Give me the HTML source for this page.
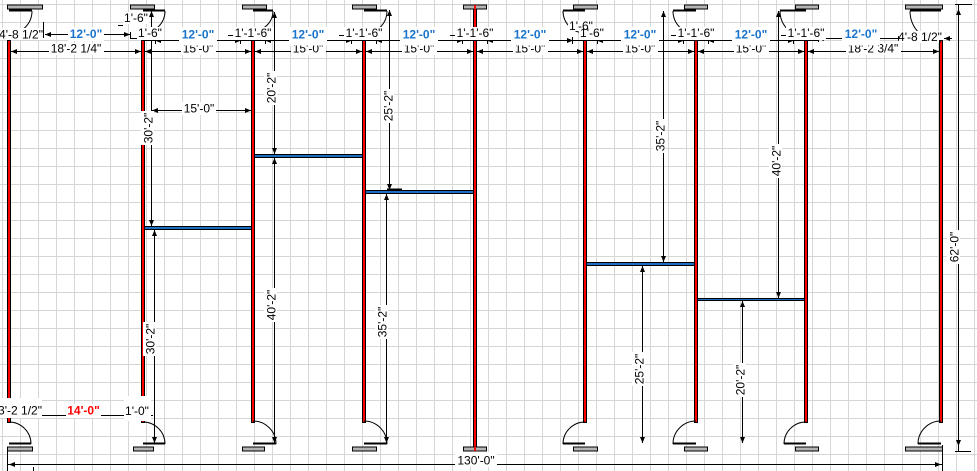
<!DOCTYPE html>
<html><head><meta charset="utf-8"><style>
html,body{margin:0;padding:0;background:#fff;}
svg{display:block;}
text{font-family:"Liberation Sans",Arial,sans-serif;font-size:12px;fill:#000;}
.b{font-weight:bold;fill:#1874cd;}
.r{font-weight:bold;fill:#ff0000;}
</style></head><body>
<svg width="977" height="471" viewBox="0 0 977 471" xmlns="http://www.w3.org/2000/svg">
<rect width="977" height="471" fill="#fff"/>
<!-- grid -->
<path stroke="#d6d6d6" stroke-width="1" fill="none" d="M2.5 0v471M20.5 0v471M38.5 0v471M56.5 0v471M74.5 0v471M92.5 0v471M110.5 0v471M128.5 0v471M146.5 0v471M164.5 0v471M182.5 0v471M200.5 0v471M218.5 0v471M236.5 0v471M254.5 0v471M272.5 0v471M290.5 0v471M308.5 0v471M326.5 0v471M344.5 0v471M362.5 0v471M380.5 0v471M398.5 0v471M416.5 0v471M434.5 0v471M452.5 0v471M470.5 0v471M488.5 0v471M506.5 0v471M524.5 0v471M542.5 0v471M560.5 0v471M578.5 0v471M596.5 0v471M614.5 0v471M632.5 0v471M650.5 0v471M668.5 0v471M686.5 0v471M704.5 0v471M722.5 0v471M740.5 0v471M758.5 0v471M776.5 0v471M794.5 0v471M812.5 0v471M830.5 0v471M848.5 0v471M866.5 0v471M884.5 0v471M902.5 0v471M920.5 0v471M938.5 0v471M956.5 0v471M974.5 0v471
M0 4.5h977M0 22.5h977M0 40.5h977M0 58.5h977M0 76.5h977M0 94.5h977M0 112.5h977M0 130.5h977M0 148.5h977M0 166.5h977M0 184.5h977M0 202.5h977M0 220.5h977M0 238.5h977M0 256.5h977M0 274.5h977M0 292.5h977M0 310.5h977M0 328.5h977M0 346.5h977M0 364.5h977M0 382.5h977M0 400.5h977M0 418.5h977M0 436.5h977M0 454.5h977"/>

<!-- walls -->
<g fill="#000">
<rect x="7" y="40" width="4" height="383"/>
<rect x="141" y="40" width="4" height="383"/>
<rect x="251" y="40" width="4" height="383"/>
<rect x="362" y="40" width="4" height="383"/>
<rect x="473" y="9" width="4" height="438"/>
<rect x="583" y="40" width="4" height="383"/>
<rect x="694" y="40" width="4" height="383"/>
<rect x="804" y="40" width="4" height="383"/>
<rect x="939" y="40" width="4" height="383"/>
</g>
<g fill="#ff0000">
<rect x="8" y="41" width="2" height="381"/>
<rect x="142" y="41" width="2" height="381"/>
<rect x="252" y="41" width="2" height="381"/>
<rect x="363" y="41" width="2" height="381"/>
<rect x="474" y="9" width="2" height="438"/>
<rect x="584" y="41" width="2" height="381"/>
<rect x="695" y="41" width="2" height="381"/>
<rect x="805" y="41" width="2" height="381"/>
<rect x="940" y="41" width="2" height="381"/>
</g>

<!-- gray door sills top -->
<g fill="#b4b4b4" stroke="#000" stroke-width="1">
<rect x="7.5" y="5" width="35" height="4"/>
<rect x="130.5" y="5" width="24" height="4"/>
<rect x="242.5" y="5" width="24" height="4"/>
<rect x="352.5" y="5" width="24" height="4"/>
<rect x="463.5" y="5" width="23" height="4"/>
<rect x="573.5" y="5" width="24" height="4"/>
<rect x="684.5" y="5" width="23" height="4"/>
<rect x="795.5" y="5" width="23" height="4"/>
<rect x="905.5" y="5" width="37" height="4"/>
<!-- bottom -->
<rect x="7.5" y="447" width="25" height="4"/>
<rect x="133.5" y="447" width="20" height="4"/>
<rect x="242.5" y="447" width="22" height="4"/>
<rect x="352.5" y="447" width="24" height="4"/>
<rect x="463.5" y="447" width="23" height="4"/>
<rect x="573.5" y="447" width="24" height="4"/>
<rect x="684.5" y="447" width="23" height="4"/>
<rect x="795.5" y="447" width="23" height="4"/>
<rect x="905.5" y="447" width="37" height="4"/>
</g>
<rect x="474" y="5" width="2" height="4" fill="#f00"/>
<rect x="474" y="447" width="2" height="4" fill="#f00"/>

<!-- door leaves -->
<g stroke="#000" stroke-width="2" fill="none">
<path d="M9 10.5H32M143 10.5H165M253 10.5H273M364 10.5H387M563 10.5H585M673 10.5H696M780 10.5H806M910 10.5H941"/>
<path d="M9 443.5H31M143 443.5H165M253 443.5H276M364 443.5H387M563 443.5H585M673 443.5H696M784 443.5H806M918 443.5H941"/>
</g>
<!-- door arcs -->
<g stroke="#000" stroke-width="1" fill="none">
<path d="M32 11A23 23 0 0 1 9 34"/>
<path d="M165 11A22 22 0 0 1 143 33"/>
<path d="M273 11A20 20 0 0 1 253 31"/>
<path d="M387 11A23 23 0 0 1 364 34"/>
<path d="M563 11A22 22 0 0 0 585 33"/>
<path d="M673 11A23 23 0 0 0 696 34"/>
<path d="M780 11A26 26 0 0 0 806 37"/>
<path d="M910 11A31 31 0 0 0 941 42"/>
<path d="M9 422A22 22 0 0 1 31 444"/>
<path d="M143 422A22 22 0 0 1 165 444"/>
<path d="M253 421A23 23 0 0 1 276 444"/>
<path d="M364 421A23 23 0 0 1 387 444"/>
<path d="M585 422A22 22 0 0 0 563 444"/>
<path d="M696 421A23 23 0 0 0 673 444"/>
<path d="M806 422A22 22 0 0 0 784 444"/>
<path d="M941 421A23 23 0 0 0 918 444"/>
</g>

<!-- blue bars -->
<g fill="#000">
<rect x="145" y="226" width="106" height="4"/>
<rect x="255" y="154" width="107" height="4"/>
<rect x="366" y="190" width="107" height="4"/>
<rect x="387" y="188.5" width="15" height="1.5"/>
<rect x="587" y="262" width="107" height="4"/>
<rect x="698" y="298" width="106" height="3"/>
</g>
<g fill="#1b6ec2">
<rect x="145" y="227" width="106" height="2"/>
<rect x="255" y="155" width="107" height="2"/>
<rect x="366" y="191" width="107" height="2"/>
<rect x="587" y="263" width="107" height="2"/>
<rect x="698" y="299" width="106" height="1"/>
</g>

<!-- dimension lines -->
<g stroke="#000" stroke-width="1" fill="none">
<!-- verticals -->
<path d="M151.5 11V226M154.5 230V443M274.5 12V154M274.5 158V443M389.5 10V190M386.5 194V443M663.5 11V262M642.5 266V443M778.5 11V298M742.5 301V443"/>
<!-- 15'-0 horizontal in bay -->
<path d="M152 110.5H251"/>
<!-- right 62' -->
<path d="M958.5 4.5V451M955 4.5H972M955 451.5H971"/>
<!-- bottom 130' -->
<path d="M8 464.5H942M7.5 447V471M942.5 445V471M33.5 467V471"/>
<!-- row 2 -->
<path d="M11 51.5H141M145 51.5H251M255 51.5H362M366 51.5H473M477 51.5H583M587 51.5H694M698 51.5H804M808 51.5H939"/>
<!-- row 1 -->
<path d="M45 34.5H130M43.5 22V38M130.5 32V38M130 38.5H140M118 25.5H123"/>
<path d="M155 40.5H241M265 40.5H352M376 40.5H463M487 40.5H573M597 40.5H684M708 40.5H794M818 38.5H904"/>
<path d="M155.5 37V44M240.5 37V44M265.5 37V44M351.5 37V44M376.5 37V44M462.5 37V44M487.5 37V44M572.5 37V44M597.5 37V44M683.5 37V44M708.5 37V44M793.5 37V44M818.5 35V42M904.5 32V43"/>
<path d="M143 40.5H155M229 40.5H265M340 40.5H376M451 40.5H487M561 40.5H597M672 40.5H708M782 40.5H818M944 38.5H952"/>
<path d="M228 35.5H233M339 35.5H344M450 35.5H455M671 35.5H676M781 35.5H786"/>
<!-- bottom-left dims -->
<path d="M33 415.5H136M33.5 398V418M148 415.5H153"/>
</g>

<!-- arrowheads -->
<g fill="#000">
<polygon points="151.5,11 149,17 154,17"/><polygon points="151.5,226 149,220 154,220"/>
<polygon points="154.5,230 152,236 157,236"/><polygon points="154.5,443 152,437 157,437"/>
<polygon points="274.5,12 272,18 277,18"/><polygon points="274.5,154 272,148 277,148"/>
<polygon points="274.5,158 272,164 277,164"/><polygon points="274.5,443 272,437 277,437"/>
<polygon points="389.5,10 387,16 392,16"/><polygon points="389.5,190 387,184 392,184"/>
<polygon points="386.5,194 384,200 389,200"/><polygon points="386.5,443 384,437 389,437"/>
<polygon points="663.5,11 661,17 666,17"/><polygon points="663.5,262 661,256 666,256"/>
<polygon points="642.5,266 640,272 645,272"/><polygon points="642.5,443 640,437 645,437"/>
<polygon points="778.5,11 776,17 781,17"/><polygon points="778.5,298 776,292 781,292"/>
<polygon points="742.5,301 740,307 745,307"/><polygon points="742.5,443 740,437 745,437"/>
<polygon points="958.5,9 956,15 961,15"/><polygon points="958.5,446 956,440 961,440"/>
<polygon points="9,464.5 15,462 15,467"/><polygon points="941,464.5 935,462 935,467"/>
<polygon points="152,110.5 158,108 158,113"/><polygon points="251,110.5 245,108 245,113"/>
<!-- row 2 -->
<polygon points="11,51.5 17,49 17,54"/><polygon points="141,51.5 135,49 135,54"/>
<polygon points="145,51.5 151,49 151,54"/><polygon points="251,51.5 245,49 245,54"/>
<polygon points="255,51.5 261,49 261,54"/><polygon points="362,51.5 356,49 356,54"/>
<polygon points="366,51.5 372,49 372,54"/><polygon points="473,51.5 467,49 467,54"/>
<polygon points="477,51.5 483,49 483,54"/><polygon points="583,51.5 577,49 577,54"/>
<polygon points="587,51.5 593,49 593,54"/><polygon points="694,51.5 688,49 688,54"/>
<polygon points="698,51.5 704,49 704,54"/><polygon points="804,51.5 798,49 798,54"/>
<polygon points="808,51.5 814,49 814,54"/><polygon points="939,51.5 933,49 933,54"/>
<!-- row 1 -->
<polygon points="45,34.5 51,32 51,37"/><polygon points="130,34.5 124,32 124,37"/>
<polygon points="155,40.5 161,38 161,43"/><polygon points="241,40.5 235,38 235,43"/>
<polygon points="265,40.5 271,38 271,43"/><polygon points="352,40.5 346,38 346,43"/>
<polygon points="376,40.5 382,38 382,43"/><polygon points="463,40.5 457,38 457,43"/>
<polygon points="487,40.5 493,38 493,43"/><polygon points="573,40.5 567,38 567,43"/>
<polygon points="597,40.5 603,38 603,43"/><polygon points="684,40.5 678,38 678,43"/>
<polygon points="708,40.5 714,38 714,43"/><polygon points="794,40.5 788,38 788,43"/>
<polygon points="818,38.5 824,36 824,41"/><polygon points="904,38.5 898,36 898,41"/>
<polygon points="944,38.5 950,36 950,41"/>
</g>

<!-- row 2 labels -->
<g fill="#fff">
<rect x="49" y="43" width="55" height="12"/>
<rect x="181" y="43" width="35" height="12"/>
<rect x="291" y="43" width="35" height="12"/>
<rect x="402" y="43" width="35" height="12"/>
<rect x="513" y="43" width="35" height="12"/>
<rect x="623" y="43" width="35" height="12"/>
<rect x="734" y="43" width="35" height="12"/>
<rect x="846" y="43" width="55" height="12"/>
</g>
<g text-anchor="middle">
<text x="76" y="52.5">18'-2 1/4"</text>
<text x="198" y="52.5">15'-0"</text>
<text x="308" y="52.5">15'-0"</text>
<text x="419" y="52.5">15'-0"</text>
<text x="530" y="52.5">15'-0"</text>
<text x="640" y="52.5">15'-0"</text>
<text x="751" y="52.5">15'-0"</text>
<text x="873" y="52.5">18'-2 3/4"</text>
</g>

<!-- row 1 labels -->
<g fill="#fff">
<rect x="-1" y="28" width="44" height="12"/>
<rect x="68" y="27" width="36" height="14"/>
<rect x="179" y="27" width="38" height="18.5"/>
<rect x="289" y="27" width="38" height="18.5"/>
<rect x="400" y="27" width="38" height="18.5"/>
<rect x="511" y="27" width="38" height="18.5"/>
<rect x="621" y="27" width="38" height="18.5"/>
<rect x="732" y="27" width="38" height="18.5"/>
<rect x="842" y="27" width="38" height="18.5"/>
<rect x="123" y="12" width="26" height="12"/>
<rect x="137" y="27" width="26" height="13"/>
<rect x="233" y="27" width="40" height="13"/>
<rect x="344" y="27" width="40" height="13"/>
<rect x="455" y="27" width="40" height="13"/>
<rect x="568" y="20" width="26" height="11"/>
<rect x="579" y="27" width="26" height="13"/>
<rect x="676" y="27" width="40" height="13"/>
<rect x="786" y="27" width="40" height="13"/>
<rect x="899" y="31" width="40" height="12"/>
</g>
<g text-anchor="middle">
<text x="21" y="38.5">4'-8 1/2"</text>
<text class="b" x="86" y="38">12'-0"</text>
<text class="b" x="198" y="38.5">12'-0"</text>
<text class="b" x="308" y="38.5">12'-0"</text>
<text class="b" x="419" y="38.5">12'-0"</text>
<text class="b" x="530" y="38.5">12'-0"</text>
<text class="b" x="640" y="38.5">12'-0"</text>
<text class="b" x="751" y="38.5">12'-0"</text>
<text class="b" x="861" y="38">12'-0"</text>
<text x="136" y="22">1'-6"</text>
<text x="150" y="37">1'-6"</text>
<text x="253" y="37">1'-1'-6"</text>
<text x="364" y="37">1'-1'-6"</text>
<text x="475" y="37">1'-1'-6"</text>
<text x="581" y="30">1'-6"</text>
<text x="592" y="37">1'-6"</text>
<text x="696" y="37">1'-1'-6"</text>
<text x="806" y="37">1'-1'-6"</text>
<text x="920" y="41">4'-8 1/2"</text>
</g>

<!-- other horizontal labels -->
<g fill="#fff">
<rect x="182" y="102" width="34" height="13"/>
<rect x="455" y="452" width="42" height="15"/>
<rect x="-1" y="398" width="43" height="20"/>
<rect x="66" y="404" width="35" height="14"/>
<rect x="124" y="396" width="27" height="25"/>
</g>
<g text-anchor="middle">
<text x="199" y="112.5">15'-0"</text>
<text x="476" y="464.5">130'-0"</text>
<text x="20" y="414.5">3'-2 1/2"</text>
<text class="r" x="83.5" y="414.5">14'-0"</text>
<text x="137" y="415">1'-0"</text>
</g>

<!-- rotated labels -->
<g text-anchor="middle">
<g transform="translate(148 128) rotate(-90)"><rect x="-17" y="-7" width="34" height="13" fill="#fff"/><text x="0" y="4.3">30'-2"</text></g>
<g transform="translate(150 339) rotate(-90)"><rect x="-17" y="-7" width="34" height="13" fill="#fff"/><text x="0" y="4.3">30'-2"</text></g>
<g transform="translate(271 88) rotate(-90)"><rect x="-17" y="-7" width="34" height="13" fill="#fff"/><text x="0" y="4.3">20'-2"</text></g>
<g transform="translate(271 305) rotate(-90)"><rect x="-17" y="-7" width="34" height="13" fill="#fff"/><text x="0" y="4.3">40'-2"</text></g>
<g transform="translate(388 106) rotate(-90)"><rect x="-17" y="-7" width="34" height="13" fill="#fff"/><text x="0" y="4.3">25'-2"</text></g>
<g transform="translate(382 322) rotate(-90)"><rect x="-17" y="-7" width="34" height="13" fill="#fff"/><text x="0" y="4.3">35'-2"</text></g>
<g transform="translate(660 136) rotate(-90)"><rect x="-17" y="-7" width="34" height="13" fill="#fff"/><text x="0" y="4.3">35'-2"</text></g>
<g transform="translate(639 369) rotate(-90)"><rect x="-17" y="-7" width="34" height="13" fill="#fff"/><text x="0" y="4.3">25'-2"</text></g>
<g transform="translate(776 161) rotate(-90)"><rect x="-17" y="-7" width="34" height="13" fill="#fff"/><text x="0" y="4.3">40'-2"</text></g>
<g transform="translate(740 380) rotate(-90)"><rect x="-17" y="-7" width="34" height="13" fill="#fff"/><text x="0" y="4.3">20'-2"</text></g>
<g transform="translate(954 247) rotate(-90)"><rect x="-17" y="-7" width="34" height="13" fill="#fff"/><text x="0" y="4.3">62'-0"</text></g>
</g>
</svg>
</body></html>
